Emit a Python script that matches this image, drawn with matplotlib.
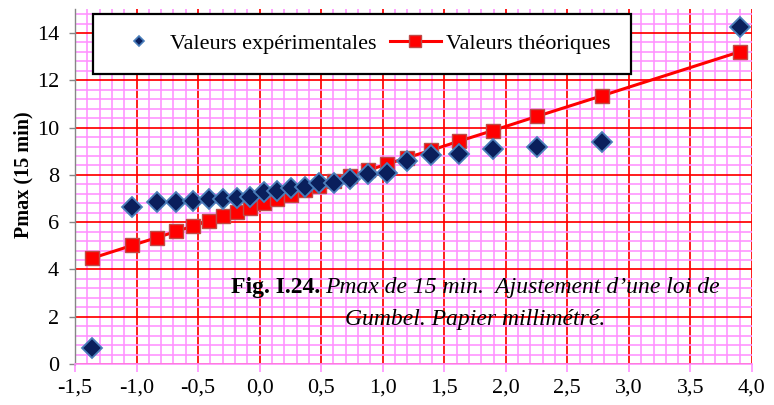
import matplotlib
matplotlib.use("Agg")
import matplotlib.pyplot as plt
from matplotlib.lines import Line2D
from matplotlib.ticker import MultipleLocator

plt.rcParams['font.family'] = ['Liberation Serif', 'DejaVu Serif']

# Gumbel reduced variate of each ranked observation
u_values = [-1.364, -1.034, -0.834, -0.676, -0.539, -0.415, -0.298, -0.186,
            -0.076, 0.033, 0.142, 0.253, 0.367, 0.484, 0.607, 0.738, 0.878,
            1.031, 1.200, 1.392, 1.617, 1.892, 2.250, 2.783, 3.902]

# Observed 15-min maximum rainfall
p_experimental = [0.68, 6.65, 6.85, 6.87, 6.91, 6.97, 6.96, 7.02, 7.08, 7.27,
                  7.31, 7.45, 7.47, 7.64, 7.67, 7.81, 8.04, 8.09, 8.59, 8.85,
                  8.88, 9.08, 9.19, 9.40, 14.24]

# Fitted Gumbel law
p_theoretical = [4.47, 5.02, 5.35, 5.61, 5.84, 6.05, 6.24, 6.43, 6.61, 6.79,
                 6.97, 7.15, 7.34, 7.54, 7.74, 7.96, 8.19, 8.45, 8.73, 9.04,
                 9.42, 9.87, 10.47, 11.35, 13.21]

x_ticks = [-1.5, -1.0, -0.5, 0.0, 0.5, 1.0, 1.5, 2.0, 2.5, 3.0, 3.5, 4.0]
x_tick_labels = ['-1,5', '-1,0', '-0,5', '0,0', '0,5', '1,0', '1,5', '2,0',
                 '2,5', '3,0', '3,5', '4,0']
y_ticks = [0, 2, 4, 6, 8, 10, 12, 14]
y_tick_labels = ['0', '2', '4', '6', '8', '10', '12', '14']

label_exp = 'Valeurs expérimentales'
label_theo = 'Valeurs théoriques'
y_label = 'Pmax (15 min)'
caption_bold = 'Fig. I.24.'
caption_italic = 'Pmax de 15 min.  Ajustement d’une loi de'
caption_line2 = 'Gumbel. Papier millimétré.'

W, H = 774, 405
fig = plt.figure(figsize=(W / 100, H / 100), dpi=100)
ax = fig.add_axes([75 / W, 1 - 364 / H, 677 / W, 354.6 / H])

RED = '#FF0000'
PINK = '#FF90FF'
NAVY = '#0A1F5C'
NAVY_EDGE = '#4A7EBB'
SQ_EDGE = '#BE4B48'

ax.set_xlim(-1.5, 4.0)
ax.set_ylim(0, 15)
ax.set_xticks(x_ticks)
ax.set_xticklabels(x_tick_labels)
ax.set_yticks(y_ticks)
ax.set_yticklabels(y_tick_labels)
ax.xaxis.set_minor_locator(MultipleLocator(0.1))
ax.yaxis.set_minor_locator(MultipleLocator(0.4))

# millimetre-paper grid
ax.set_axisbelow(True)
ax.grid(which='minor', color=PINK, linewidth=1.15)
ax.grid(which='major', color=RED, linewidth=1.25)

for side in ('top', 'right'):
    ax.spines[side].set_visible(False)
ax.spines['left'].set_color('#868686')
ax.spines['left'].set_linewidth(1.0)
ax.spines['bottom'].set_color(PINK)
ax.spines['bottom'].set_linewidth(1.2)

ax.tick_params(axis='y', which='major', direction='out', length=4.5, width=1,
               color='#868686', pad=7, labelsize=16)
ax.tick_params(axis='x', which='major', direction='out', length=5.5, width=1.2,
               color=PINK, pad=5, labelsize=16)
ax.tick_params(which='minor', length=0)

ax.plot(u_values, p_theoretical, color=RED, linewidth=2.2, marker='s',
        markersize=10, markerfacecolor=RED, markeredgecolor=SQ_EDGE,
        markeredgewidth=1.0, zorder=3)
ax.plot(u_values, p_experimental, linestyle='none', marker='D',
        markersize=9.8, markerfacecolor=NAVY, markeredgecolor=NAVY_EDGE,
        markeredgewidth=1.3, zorder=4)

fig.text(23 / W, 1 - 175 / H, y_label, rotation=90, ha='center', va='center',
         fontsize=14.5, fontweight='bold')

handles = [
    Line2D([], [], linestyle='none', marker='D', markersize=5.2,
           markerfacecolor=NAVY, markeredgecolor=NAVY_EDGE, markeredgewidth=1.2),
    Line2D([], [], color=RED, linewidth=2.2, marker='s', markersize=8.2,
           markerfacecolor=RED, markeredgecolor=SQ_EDGE, markeredgewidth=1.0),
]
leg = ax.legend(handles, [label_exp, label_theo], ncol=2, loc='upper left',
                bbox_to_anchor=(93 / W, 1 - 13.7 / H),
                bbox_transform=fig.transFigure, borderaxespad=0,
                fontsize=16, frameon=True, fancybox=False, framealpha=1,
                edgecolor='black', handlelength=2.3, handletextpad=0.25,
                columnspacing=0.6, borderpad=0.9)
leg.get_frame().set_linewidth(1.6)
leg.set_zorder(6)

# figure caption: bold number followed by italic title, centred as a block
cx, y1, y2 = 1.75, 3.0, 1.63
t1 = ax.annotate(caption_bold, xy=(cx, y1), xycoords='data', xytext=(0, 0),
                 textcoords='offset pixels', ha='left', va='baseline',
                 fontsize=17, fontweight='bold', zorder=7)
t2 = ax.annotate(caption_italic, xy=(cx, y1), xycoords='data', xytext=(0, 0),
                 textcoords='offset pixels', ha='left', va='baseline',
                 fontsize=17, fontstyle='italic', zorder=7)
ax.text(cx, y2, caption_line2, ha='center', va='baseline', fontsize=17,
        fontstyle='italic', zorder=7)

fig.canvas.draw()
renderer = fig.canvas.get_renderer()
w1 = t1.get_window_extent(renderer).width
w2 = t2.get_window_extent(renderer).width
gap = 5
start = -(w1 + gap + w2) / 2
t1.set_position((start, 0))
t2.set_position((start + w1 + gap, 0))

fig.savefig('out.png', dpi=100)
